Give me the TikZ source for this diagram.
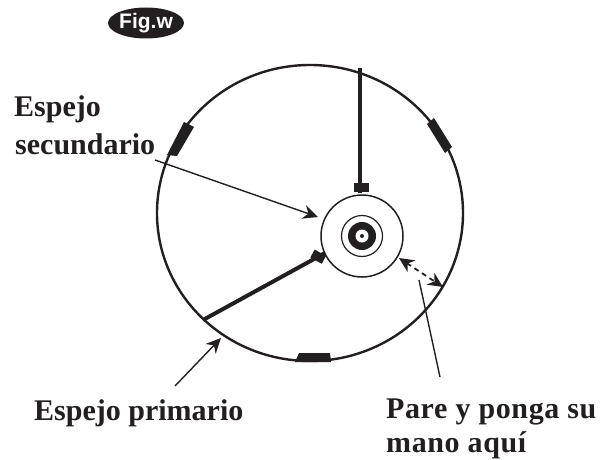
\documentclass[tikz,border=0pt]{standalone}
\usepackage{fontspec}
\setmainfont{Liberation Serif}
\newfontfamily\figfont{Liberation Sans}
\usetikzlibrary{arrows.meta,shapes.geometric}
\definecolor{ink}{HTML}{231F20}
\tikzset{
  lbl/.style={font=\fontsize{30}{30}\selectfont\bfseries,text=ink,anchor=base west,inner sep=0pt},
  wide lbl/.style={lbl,font=\fontsize{30}{30}\selectfont\bfseries\addfontfeatures{LetterSpace=2}},
  thin arrow/.style={draw=ink,line width=1.4pt,-{Stealth[length=15pt,width=14pt]}},
  spider/.style={draw=ink,line width=4pt},
  pad/.style={fill=ink,draw=none},
  ring/.style={draw=ink,line width=1.5pt,circle,inner sep=0pt}
}
\begin{document}
\begin{tikzpicture}[x=1pt,y=-1pt]
\useasboundingbox (0,0) rectangle (613,460);
\fill[white] (0,0) rectangle (613,460);
% Fig label
\node[ellipse,fill=ink,text=white,minimum width=64pt,minimum height=31pt,inner sep=0pt,font=\figfont\bfseries\fontsize{21}{21}\selectfont] (fig) at (146,23) {Fig.w};
% outer ring
\node[draw=ink,line width=2.4pt,ellipse,minimum width=306pt,minimum height=296pt,inner sep=0pt] (outer) at (310,213) {};
% pads
\fill[pad] (167,155) -- (177,156) -- (194,127) -- (184,122) -- cycle;
\fill[pad] (427,124) -- (434,118) -- (452,147) -- (445,153) -- cycle;
\fill[pad] (295,362) -- (299,353) -- (330,353) -- (331,362) -- cycle;
% secondary assembly
\node[ring,minimum size=82pt] (sec) at (362,236) {};
\node[ring,minimum size=41pt,line width=1.2pt] (r2) at (362,236) {};
\node[circle,fill=ink,minimum size=28pt,inner sep=0pt] (r3) at (362,236) {};
\node[circle,fill=white,minimum size=13pt,inner sep=0pt] (r4) at (362,236) {};
\node[circle,fill=ink,minimum size=4pt,inner sep=0pt] (r5) at (362,236) {};
% spiders
\coordinate (topv) at (360,68);
\coordinate (topEnd) at (360,193);
\coordinate (vane) at (203,320);
\coordinate (vaneEnd) at (325,253);
\draw[spider] (topv) -- (topEnd);
\fill[pad] (354,183) rectangle (368.5,192);
\draw[spider] (vane) -- (vaneEnd);
\fill[pad,rotate around={-28.8:(318,256)}] (312,252) rectangle (325,261);
% labels
\node[lbl] (l1) at (14,116) {Espejo};
\node[lbl] (l2) at (15,154) {secundario};
\node[lbl] (l3) at (34,420) {Espejo primario};
\node[wide lbl] (l4) at (386,418) {Pare y ponga su};
\node[wide lbl] (l5) at (386,452) {mano aquí};
% pointers
\coordinate (a1) at (155,160);
\coordinate (a1t) at (318,217);
\draw[thin arrow] (a1) -- (a1t);
\coordinate (a2) at (175,386);
\coordinate (a2t) at (221,338);
\draw[thin arrow] (a2) -- (a2t);
\coordinate (a3) at (440,377);
\coordinate (a3s) at (419,280);
\draw[draw=ink,line width=1.4pt] (a3) -- (a3s);
\coordinate (d1) at (399,258);
\coordinate (d2) at (443,287);
\draw[draw=ink,line width=1.8pt,dash pattern=on 5pt off 4pt,{Stealth[length=15pt,width=14pt]}-{Stealth[length=15pt,width=14pt]}] (d1) -- (d2);
\end{tikzpicture}
\end{document}
